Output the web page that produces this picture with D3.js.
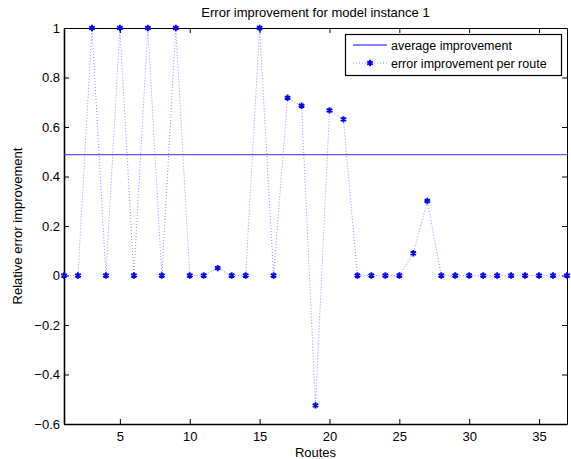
<!DOCTYPE html>
<html>
<head>
<meta charset="utf-8">
<script src="https://cdn.jsdelivr.net/npm/d3@7"></script>
<style>
  body { margin: 0; background: #fff; }
  text { font-family: "Liberation Sans", Arial, Helvetica, sans-serif; fill: #000; }
</style>
</head>
<body>
<div id="chart"></div>
<script>
const WIDTH = 571;
const HEIGHT = 459;
const LEFT = 64;
const RIGHT = 567;
const TOP = 28;
const BOTTOM = 424;
const TICK = 5;

// data
const routes = d3.range(1, 38);
const improvement = [
  0, 0, 1, 0, 1, 0, 1, 0, 1, 0,
  0, 0.03, 0, 0, 1, 0, 0.718, 0.686, -0.525, 0.667,
  0.631, 0, 0, 0, 0, 0.09, 0.301, 0, 0, 0,
  0, 0, 0, 0, 0, 0, 0
];
const averageImprovement = 0.488;
const xTicks = [5, 10, 15, 20, 25, 30, 35];
const yTicks = [-0.6, -0.4, -0.2, 0, 0.2, 0.4, 0.6, 0.8, 1];

const points = routes.map((r, i) => ({route: r, value: improvement[i]}));

let svg = d3.select('#chart').append('svg')
  .attr('width', WIDTH)
  .attr('height', HEIGHT);

let xScale = d3.scaleLinear().domain([1, 37]).range([LEFT, RIGHT]);
let yScale = d3.scaleLinear().domain([-0.6, 1]).range([BOTTOM, TOP]);

let yFormat = (d) => d3.format('')(+d.toFixed(1));

// axes, ticks pointing inwards like matlab
svg.append('g')
  .attr('class', 'xAxis')
  .attr('transform', `translate(0, ${BOTTOM})`)
  .call(d3.axisBottom(xScale).tickValues(xTicks).tickSize(-TICK).tickSizeOuter(0).tickPadding(8));

svg.append('g')
  .attr('class', 'xAxisTop')
  .attr('transform', `translate(0, ${TOP})`)
  .call(d3.axisTop(xScale).tickValues(xTicks).tickSize(-TICK).tickSizeOuter(0).tickFormat(''));

svg.append('g')
  .attr('class', 'yAxis')
  .attr('transform', `translate(${LEFT}, 0)`)
  .call(d3.axisLeft(yScale).tickValues(yTicks).tickSize(-TICK).tickSizeOuter(0).tickPadding(4).tickFormat(yFormat));

svg.append('g')
  .attr('class', 'yAxisRight')
  .attr('transform', `translate(${RIGHT}, 0)`)
  .call(d3.axisRight(yScale).tickValues(yTicks).tickSize(-TICK).tickSizeOuter(0).tickFormat(''));

svg.selectAll('.domain').attr('stroke', '#000').attr('stroke-width', 1);
svg.selectAll('.xAxis .domain, .yAxis .domain').attr('stroke-width', 1.6);
svg.selectAll('.tick line').attr('stroke', '#000');
svg.selectAll('.tick text')
  .style('font-family', '"Liberation Sans", Arial, sans-serif')
  .style('font-size', '13px')
  .attr('fill', '#000');

// average line
svg.append('line')
  .attr('x1', xScale(1))
  .attr('x2', xScale(37))
  .attr('y1', yScale(averageImprovement))
  .attr('y2', yScale(averageImprovement))
  .attr('stroke', '#3333ff')
  .attr('stroke-width', 1.3)
  .attr('opacity', 0.8);

// dotted route line
let line = d3.line()
  .x((d) => xScale(d.route))
  .y((d) => yScale(d.value));

svg.append('path')
  .datum(points)
  .attr('d', line)
  .attr('fill', 'none')
  .attr('stroke', '#3030ff')
  .attr('stroke-width', 0.9)
  .attr('stroke-dasharray', '1,2')
  .attr('opacity', 0.6);

let star = d3.symbol(d3.symbolAsterisk, 28);

svg.append('g')
  .selectAll('path')
  .data(points)
  .enter()
  .append('path')
  .attr('d', star)
  .attr('transform', (d) => `translate(${xScale(d.route)}, ${yScale(d.value)})`)
  .attr('fill', 'none')
  .attr('stroke', '#0000ff')
  .attr('stroke-width', 1.9);

// texts
svg.append('text')
  .attr('x', (LEFT + RIGHT) / 2)
  .attr('y', 17)
  .attr('text-anchor', 'middle')
  .style('font-size', '13px')
  .text('Error improvement for model instance 1');

svg.append('text')
  .attr('x', (LEFT + RIGHT) / 2)
  .attr('y', 457)
  .attr('text-anchor', 'middle')
  .style('font-size', '13px')
  .text('Routes');

svg.append('text')
  .attr('transform', `translate(22, ${(TOP + BOTTOM) / 2}) rotate(-90)`)
  .attr('text-anchor', 'middle')
  .style('font-size', '13px')
  .text('Relative error improvement');

// legend
let legend = svg.append('g').attr('class', 'legend');
legend.append('rect')
  .attr('x', 345.5)
  .attr('y', 34.5)
  .attr('width', 216)
  .attr('height', 41)
  .attr('fill', '#fff')
  .attr('stroke', '#000')
  .attr('stroke-width', 1.2);

legend.append('line')
  .attr('x1', 353).attr('x2', 387)
  .attr('y1', 45).attr('y2', 45)
  .attr('stroke', '#3333ff')
  .attr('stroke-width', 1.3)
  .attr('opacity', 0.8);

legend.append('line')
  .attr('x1', 353).attr('x2', 387)
  .attr('y1', 63).attr('y2', 63)
  .attr('stroke', '#3030ff')
  .attr('stroke-width', 0.9)
  .attr('stroke-dasharray', '1,2')
  .attr('opacity', 0.6);

legend.append('path')
  .attr('d', star)
  .attr('transform', 'translate(370, 63)')
  .attr('fill', 'none')
  .attr('stroke', '#0000ff')
  .attr('stroke-width', 1.9);

legend.selectAll('text.entry')
  .data(['average improvement', 'error improvement per route'])
  .enter()
  .append('text')
  .attr('class', 'entry')
  .attr('x', 391)
  .attr('y', (d, i) => 49.5 + i * 18)
  .style('font-size', '12.5px')
  .text((d) => d);
</script>
</body>
</html>
